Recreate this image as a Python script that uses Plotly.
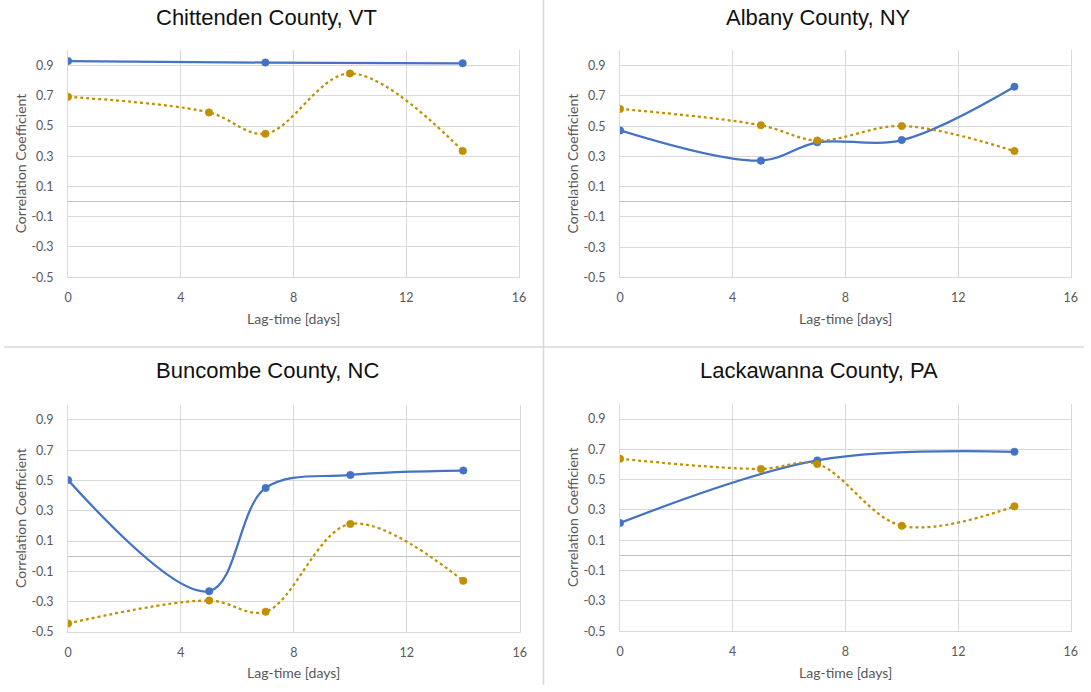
import plotly.graph_objects as go

W, H = 1091, 692

titles = ["Chittenden County, VT", "Albany County, NY", "Buncombe County, NC", "Lackawanna County, PA"]

lag_all = [0, 5, 7, 10, 14]
lag_three = [0, 7, 14]

# Chittenden County, VT
vt_blue_x = lag_three
vt_blue_y = [0.93, 0.92, 0.915]
vt_gold_x = lag_all
vt_gold_y = [0.693, 0.59, 0.449, 0.848, 0.335]

# Albany County, NY
ny_blue_x = lag_all
ny_blue_y = [0.472, 0.272, 0.393, 0.408, 0.761]
ny_gold_x = lag_all
ny_gold_y = [0.614, 0.506, 0.405, 0.501, 0.335]

# Buncombe County, NC
nc_blue_x = lag_all
nc_blue_y = [0.503, -0.231, 0.451, 0.537, 0.566]
nc_gold_x = lag_all
nc_gold_y = [-0.445, -0.293, -0.367, 0.213, -0.163]

# Lackawanna County, PA
pa_blue_x = lag_three
pa_blue_y = [0.214, 0.627, 0.684]
pa_gold_x = lag_all
pa_gold_y = [0.638, 0.571, 0.603, 0.196, 0.324]

x_ticks = [0, 4, 8, 12, 16]
y_ticks = [-0.5, -0.3, -0.1, 0.1, 0.3, 0.5, 0.7, 0.9]
y_tick_text = ["-0.5", "-0.3", "-0.1", "0.1", "0.3", "0.5", "0.7", "0.9"]

x_title = "Lag-time [days]"
y_title = "Correlation Coefficient"

BLUE = "#4472C4"
GOLD = "#BF9000"
GRID = "#d9d9d9"
TXT = "#595959"
FONT = "Lato"

# plot areas in pixels: (left, right, top, bottom)
areas = [
    (64.7, 520.3, 51.0, 280.0),
    (622.3, 1077.7, 51.0, 280.3),
    (64.7, 521.0, 409.0, 638.3),
    (622.3, 1077.7, 408.0, 637.7),
]
title_pos = [(265.5, 17.3), (823.0, 17.3), (265.7, 374.6), (823.0, 374.6)]

series = [
    (vt_blue_x, vt_blue_y, vt_gold_x, vt_gold_y),
    (ny_blue_x, ny_blue_y, ny_gold_x, ny_gold_y),
    (nc_blue_x, nc_blue_y, nc_gold_x, nc_gold_y),
    (pa_blue_x, pa_blue_y, pa_gold_x, pa_gold_y),
]

fig = go.Figure()
annotations = []
layout = {}

for i, ((bx, by, gx, gy), (l, r, t, b)) in enumerate(zip(series, areas)):
    n = i + 1
    xa = "x" if n == 1 else f"x{n}"
    ya = "y" if n == 1 else f"y{n}"
    fig.add_trace(go.Scatter(
        x=bx, y=by, xaxis=xa, yaxis=ya, mode="lines+markers",
        line=dict(color=BLUE, width=2.25, shape="spline", smoothing=1),
        marker=dict(color=BLUE, size=7.5, line=dict(color=BLUE, width=0.5)),
        showlegend=False, hoverinfo="skip"))
    fig.add_trace(go.Scatter(
        x=gx, y=gy, xaxis=xa, yaxis=ya, mode="lines+markers",
        line=dict(color=GOLD, width=2.25, shape="spline", smoothing=1, dash="dot"),
        marker=dict(color=GOLD, size=7.5, line=dict(color=GOLD, width=0.5)),
        showlegend=False, hoverinfo="skip"))

    xkey = "xaxis" if n == 1 else f"xaxis{n}"
    ykey = "yaxis" if n == 1 else f"yaxis{n}"
    layout[xkey] = dict(
        domain=[l / W, r / W], anchor=ya, range=[0, 16],
        tickmode="array", tickvals=x_ticks,
        showgrid=True, gridcolor=GRID, gridwidth=1,
        zeroline=False, showline=True, linecolor=GRID, linewidth=1, mirror=False,
        ticks="", ticklabelstandoff=9,
        tickfont=dict(family=FONT, size=12.5, color=TXT), fixedrange=True)
    layout[ykey] = dict(
        domain=[1 - b / H, 1 - t / H], anchor=xa, range=[-0.5, 1.0],
        tickmode="array", tickvals=y_ticks, ticktext=y_tick_text,
        showgrid=True, gridcolor=GRID, gridwidth=1,
        zeroline=True, zerolinecolor="#bfbfbf", zerolinewidth=1.2,
        showline=True, linecolor=GRID, linewidth=1, mirror=True,
        ticks="", ticklabelstandoff=11,
        tickfont=dict(family=FONT, size=12.5, color=TXT), fixedrange=True)

    tx, ty = title_pos[i]
    annotations.append(dict(
        text=titles[i], x=tx / W, y=1 - ty / H, xref="paper", yref="paper",
        xanchor="center", yanchor="middle", showarrow=False,
        font=dict(family="Liberation Sans", size=22, color="#111111")))
    annotations.append(dict(
        text=x_title, x=(l + r) / 2 / W, y=1 - (b + 41.5) / H, xref="paper", yref="paper",
        xanchor="center", yanchor="middle", showarrow=False,
        font=dict(family=FONT, size=14, color=TXT)))
    annotations.append(dict(
        text=y_title, x=(l - 48) / W, y=1 - (t + b) / 2 / H, xref="paper", yref="paper",
        xanchor="center", yanchor="middle", showarrow=False, textangle=-90,
        font=dict(family=FONT, size=14, color=TXT)))

shapes = [
    dict(type="line", xref="paper", yref="paper", x0=545 / W, x1=545 / W, y0=0, y1=1,
         line=dict(color=GRID, width=1.5)),
    dict(type="line", xref="paper", yref="paper", x0=0, x1=1, y0=1 - 350.5 / H, y1=1 - 350.5 / H,
         line=dict(color=GRID, width=1.5)),
]

fig.update_layout(
    autosize=True, margin=dict(l=0, r=0, t=0, b=0, pad=0),
    paper_bgcolor="white", plot_bgcolor="white",
    annotations=annotations, shapes=shapes, showlegend=False,
    **layout)

fig.write_html(
    "out.html",
    default_width="100vw", default_height="100vh",
    config={"displayModeBar": False, "responsive": True},
    post_script="document.body.style.margin='0px';document.documentElement.style.overflow='hidden';document.body.style.overflow='hidden';")
